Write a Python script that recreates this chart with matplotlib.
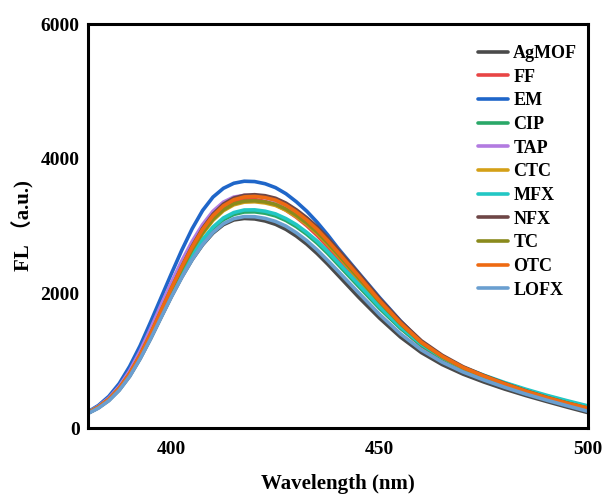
import matplotlib
matplotlib.use("Agg")
import matplotlib.pyplot as plt

wavelength = [380, 382.5, 385, 387.5, 390, 392.5, 395, 397.5, 400, 402.5, 405, 407.5,
              410, 412.5, 415, 417.5, 420, 422.5, 425, 427.5, 430, 432.5, 435, 437.5,
              440, 445, 450, 455, 460, 465, 470, 475, 480, 485, 490, 495, 500]

AgMOF = [220, 300, 410, 565, 770, 1030, 1325, 1640, 1950, 2240, 2500, 2720,
         2895, 3020, 3090, 3112, 3105, 3075, 3025, 2950, 2850, 2730, 2590, 2435,
         2270, 1940, 1630, 1350, 1120, 942, 800, 683, 578, 483, 395, 310, 228]
FF = [228, 315, 435, 600, 825, 1105, 1425, 1765, 2100, 2415, 2705, 2955,
      3150, 3290, 3370, 3400, 3395, 3365, 3315, 3235, 3130, 3005, 2860, 2695,
      2520, 2165, 1810, 1490, 1220, 1022, 868, 745, 635, 532, 440, 358, 286]
EM = [240, 335, 470, 660, 915, 1220, 1570, 1930, 2290, 2640, 2960, 3230,
      3430, 3560, 3635, 3665, 3660, 3628, 3570, 3480, 3360, 3220, 3055, 2870,
      2670, 2300, 1935, 1590, 1280, 1060, 893, 765, 650, 543, 448, 365, 290]
CIP = [225, 308, 422, 582, 793, 1058, 1358, 1678, 1990, 2282, 2550, 2778,
       2960, 3093, 3172, 3208, 3210, 3190, 3150, 3082, 2990, 2877, 2745, 2595,
       2430, 2100, 1775, 1480, 1228, 1036, 886, 770, 664, 566, 476, 394, 314]
TAP = [232, 322, 445, 618, 850, 1140, 1470, 1820, 2160, 2480, 2770, 3020,
       3220, 3355, 3430, 3455, 3448, 3420, 3375, 3300, 3200, 3080, 2940, 2775,
       2600, 2245, 1880, 1550, 1265, 1058, 895, 768, 652, 545, 450, 366, 292]
CTC = [225, 308, 424, 585, 800, 1072, 1382, 1712, 2040, 2350, 2635, 2885,
       3085, 3227, 3315, 3354, 3360, 3342, 3305, 3235, 3140, 3025, 2890, 2730,
       2560, 2210, 1855, 1535, 1258, 1052, 890, 765, 652, 546, 451, 367, 292]
MFX = [226, 310, 425, 585, 798, 1065, 1368, 1690, 2005, 2300, 2570, 2800,
       2985, 3120, 3200, 3238, 3240, 3220, 3180, 3110, 3020, 2905, 2775, 2625,
       2460, 2130, 1800, 1500, 1245, 1050, 900, 783, 675, 577, 487, 405, 328]
NFX = [222, 305, 422, 583, 800, 1075, 1390, 1730, 2070, 2395, 2700, 2965,
       3175, 3325, 3415, 3456, 3465, 3450, 3412, 3340, 3240, 3122, 2985, 2822,
       2648, 2290, 1920, 1585, 1295, 1080, 910, 780, 662, 553, 456, 370, 293]
TC = [225, 309, 425, 587, 803, 1076, 1388, 1720, 2050, 2362, 2650, 2900,
      3100, 3242, 3330, 3369, 3375, 3358, 3322, 3252, 3158, 3043, 2908, 2748,
      2578, 2225, 1870, 1545, 1265, 1057, 894, 768, 655, 549, 454, 370, 294]
OTC = [225, 310, 428, 590, 810, 1085, 1400, 1740, 2075, 2395, 2690, 2950,
       3155, 3300, 3390, 3432, 3440, 3422, 3385, 3310, 3210, 3090, 2950, 2785,
       2610, 2255, 1890, 1560, 1275, 1065, 900, 772, 655, 548, 452, 368, 295]
LOFX = [215, 295, 405, 560, 765, 1025, 1320, 1635, 1945, 2235, 2500, 2725,
        2905, 3035, 3110, 3140, 3138, 3113, 3068, 2998, 2900, 2782, 2645, 2490,
        2330, 2005, 1685, 1398, 1160, 978, 832, 713, 605, 505, 415, 330, 248]

labels = ["AgMOF", "FF", "EM", "CIP", "TAP", "CTC", "MFX", "NFX", "TC", "OTC", "LOFX"]
series = [AgMOF, FF, EM, CIP, TAP, CTC, MFX, NFX, TC, OTC, LOFX]
colors = ["#4a4a4a", "#e84545", "#1f66c9", "#2aa868", "#b27be0", "#d4a017",
          "#22c7c4", "#6e4646", "#8a8a1c", "#ee6a12", "#6a9fd0"]

x_ticks = [400, 450, 500]
y_ticks = [0, 2000, 4000, 6000]

serif = ["Liberation Serif", "Noto Sans CJK SC", "DejaVu Serif"]

fig = plt.figure(figsize=(6.08, 4.94), dpi=100)
ax = fig.add_axes([0.1447, 0.1336, 0.8225, 0.8178])

for y, lab, c in zip(series, labels, colors):
    ax.plot(wavelength, y, color=c, lw=2.6, label=lab,
            solid_capstyle="round", solid_joinstyle="round")

ax.set_xlim(380, 500)
ax.set_ylim(0, 6000)
ax.set_xticks(x_ticks)
ax.set_yticks(y_ticks)
ax.tick_params(length=0)
ax.tick_params(axis="y", pad=6)
ax.tick_params(axis="x", pad=9)
for t in ax.get_xticklabels() + ax.get_yticklabels():
    t.set_fontfamily(serif)
    t.set_fontweight("bold")
    t.set_fontsize(14)
for s in ax.spines.values():
    s.set_linewidth(2.2)
    s.set_color("black")

ax.set_xlabel("Wavelength (nm)", family=serif, fontweight="bold", fontsize=15, labelpad=12)
ax.set_ylabel("FL \uff08a.u.)", family=serif, fontweight="bold", fontsize=15, labelpad=4)

leg = ax.legend(loc="upper right", bbox_to_anchor=(1.0, 0.975), frameon=False,
                prop={"family": serif, "weight": "bold", "size": 13},
                handlelength=1.66, handletextpad=0.3, labelspacing=0.37,
                borderaxespad=0.2)
for h in leg.get_lines():
    h.set_linewidth(2.6)

fig.savefig("out.png", dpi=100)
